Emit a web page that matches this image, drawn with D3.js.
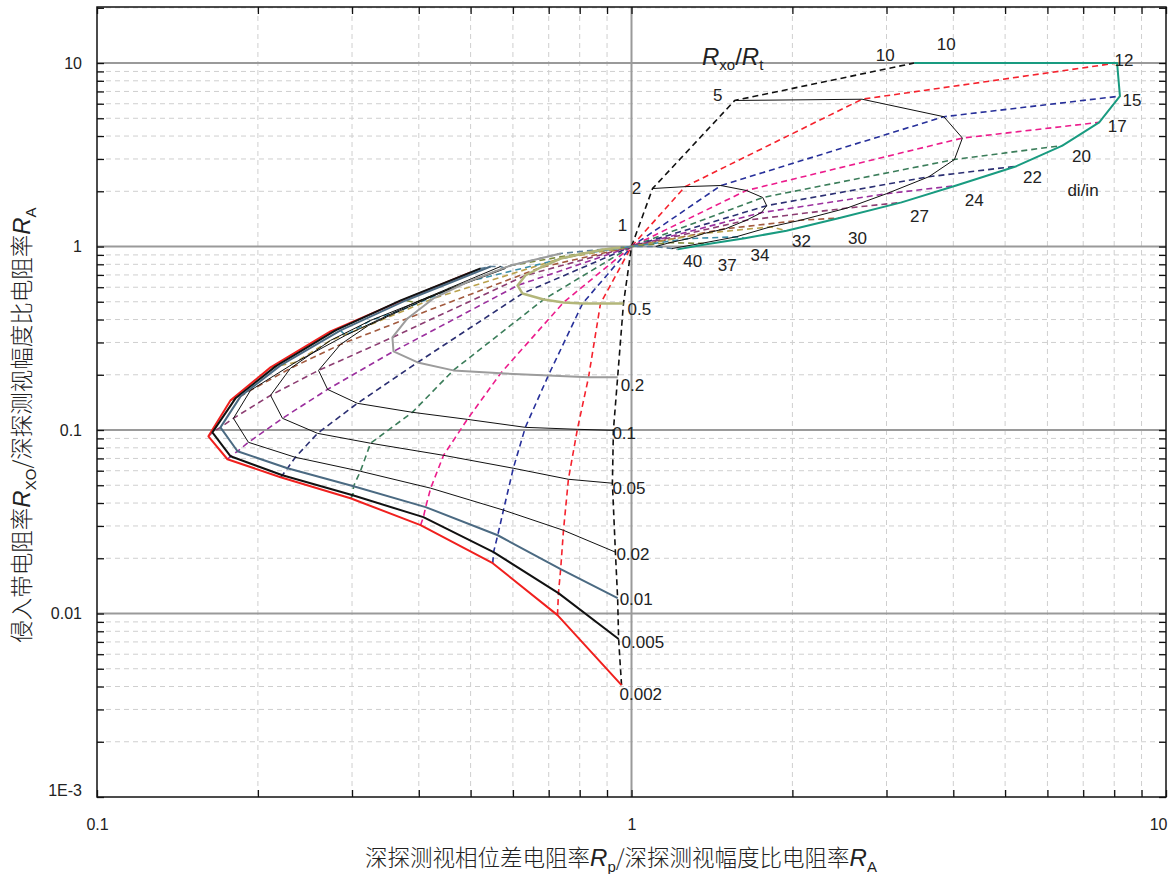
<!DOCTYPE html>
<html>
<head>
<meta charset="utf-8">
<script src="https://cdn.jsdelivr.net/npm/d3@7"></script>
<style>
  body { margin: 0; background: #fff; }
  text { font-family: "Liberation Sans", Arial, sans-serif; fill: #222; }
  .cjk { font-family: "Noto Sans CJK SC", "Liberation Sans", sans-serif; font-weight: 300; }
</style>
</head>
<body>
<svg id="chart" width="1171" height="874"></svg>
<script>
// Rxo/Rt values, one contour per value (rows of the tables below)
const ratios = [0.002, 0.005, 0.01, 0.02, 0.05, 0.1, 0.2, 0.5, 1, 2, 5, 10];
// invasion diameters di (in), one dashed line per value (columns)
const diameters = [10, 12, 15, 17, 20, 22, 24, 27, 30, 32, 34, 37, 40];

// Rp/RA for each ratio row, one value per diameter
const rpRA = [
  [0.958, 0.727, 0.550, 0.403, 0.298, 0.2205, 0.1754, 0.1616, 0.1778, 0.2112, 0.2734, 0.365, 0.500],
  [0.946, 0.730, 0.552, 0.408, 0.301, 0.2223, 0.1778, 0.1644, 0.1816, 0.2158, 0.2794, 0.370, 0.522],
  [0.942, 0.737, 0.562, 0.412, 0.302, 0.2272, 0.1832, 0.1702, 0.1856, 0.2205, 0.2855, 0.378, 0.545],
  [0.933, 0.746, 0.576, 0.421, 0.311, 0.235, 0.192, 0.180, 0.1937, 0.235, 0.2917, 0.394, 0.569],
  [0.921, 0.762, 0.601, 0.445, 0.325, 0.2586, 0.2223, 0.2112, 0.230, 0.2734, 0.325, 0.421, 0.581],
  [0.925, 0.792, 0.633, 0.493, 0.389, 0.307, 0.270, 0.2597, 0.2855, 0.322, 0.370, 0.449, 0.594],
  [0.942, 0.831, 0.699, 0.569, 0.464, 0.398, 0.3587, 0.357, 0.381, 0.426, 0.4955, 0.594, 0.737],
  [0.966, 0.875, 0.810, 0.746, 0.685, 0.625, 0.612, 0.633, 0.676, 0.737, 0.813, 0.886, 0.954],
  [1, 1, 1, 1, 1, 1, 1, 1, 1, 1, 1, 1, 1],
  [1.095, 1.26, 1.47, 1.64, 1.76, 1.79, 1.75, 1.64, 1.50, 1.37, 1.28, 1.18, 1.11],
  [1.56, 2.70, 3.84, 4.16, 4.02, 3.60, 3.00, 2.53, 2.07, 1.82, 1.57, 1.35, 1.19],
  [3.38, 8.1, 8.2, 7.5, 6.4, 5.25, 4.05, 3.2, 2.45, 1.95, 1.63, 1.38, 1.22]
];

// Rxo/RA for each ratio row, one value per diameter
const rxoRA = [
  [0.00407, 0.0098, 0.0188, 0.0303, 0.0425, 0.0553, 0.0693, 0.0924, 0.1451, 0.2195, 0.3446, 0.4957, 0.7221],
  [0.00726, 0.01291, 0.0216, 0.0335, 0.0441, 0.0567, 0.0719, 0.0971, 0.1488, 0.2222, 0.3489, 0.5082, 0.7592],
  [0.01213, 0.01745, 0.0267, 0.0380, 0.0494, 0.0619, 0.0766, 0.1034, 0.1526, 0.225, 0.3489, 0.5082, 0.7785],
  [0.0216, 0.0284, 0.0366, 0.0482, 0.0596, 0.0710, 0.0857, 0.1158, 0.1644, 0.2336, 0.3278, 0.4957, 0.7785],
  [0.0513, 0.0539, 0.0619, 0.0728, 0.0847, 0.0959, 0.1158, 0.1545, 0.2167, 0.3078, 0.3956, 0.5343, 0.7592],
  [0.0996, 0.1009, 0.1034, 0.1143, 0.1249, 0.1398, 0.1665, 0.2113, 0.2928, 0.3715, 0.4483, 0.5761, 0.788],
  [0.1936, 0.1936, 0.1985, 0.2036, 0.2113, 0.2336, 0.2682, 0.3197, 0.4056, 0.5211, 0.6449, 0.788, 0.9161],
  [0.4895, 0.4895, 0.4895, 0.4957, 0.5146, 0.5548, 0.6134, 0.6953, 0.7687, 0.8603, 0.9161, 0.9631, 0.9876],
  [1, 1, 1, 1, 1, 1, 1, 1, 1, 1, 1, 1, 1],
  [2.07, 2.12, 2.15, 2.02, 1.85, 1.67, 1.53, 1.39, 1.25, 1.18, 1.105, 1.05, 1.0],
  [6.25, 6.35, 5.1, 3.9, 2.98, 2.40, 1.94, 1.62, 1.39, 1.28, 1.13, 1.04, 0.975],
  [10, 10, 6.6, 4.75, 3.55, 2.74, 2.15, 1.74, 1.43, 1.22, 1.11, 1.03, 0.965]
];

// axis tick labels
const xTickLabels = ["0.1", "1", "10"];
const yTickLabels = ["1E-3", "0.01", "0.1", "1", "10"];

// line styles
const diColors = ["#111111", "#f5222d", "#27309a", "#ec1c8c", "#3b7d5a", "#2b2f72",
                  "#9b2f9e", "#8c3d72", "#a25a3e", "#b9a14c", "#3c8ea8", "#7d8a3a", "#5a7d96"];
const contourStyle = {
  0.002: { color: "#f0201e", width: 2 },
  0.005: { color: "#111111", width: 2 },
  0.01:  { color: "#4b6a82", width: 2 },
  0.02:  { color: "#111111", width: 1 },
  0.05:  { color: "#111111", width: 1 },
  0.1:   { color: "#111111", width: 1 },
  0.2:   { color: "#9c9c9c", width: 2 },
  0.5:   { color: "#b3b67a", width: 2.5 },
  2:     { color: "#111111", width: 1 },
  5:     { color: "#111111", width: 1 },
  10:    { color: "#199b80", width: 2 }
};

const svg = d3.select("#chart");
const plotL = 97, plotR = 1166, plotT = 7, plotB = 797;

const x = d3.scaleLog().domain([0.1, 10]).range([plotL, plotR]);
const y = d3.scaleLog().domain([0.001, 20.2]).range([plotB, plotT]);

const grid = ratios.map((r, i) => diameters.map((d, j) => ({ r, d, x: rpRA[i][j], y: rxoRA[i][j] })));

// ---- grid lines ----
const xMinor = [], yMinor = [];
[0.1, 1].forEach(b => { for (let k = 2; k <= 9; k++) xMinor.push(b * k); });
[0.001, 0.01, 0.1, 1, 10].forEach(b => { for (let k = 2; k <= 9; k++) { const v = b * k; if (v < 20.2) yMinor.push(v); } });
const gGrid = svg.append("g");
gGrid.selectAll(".vx").data(xMinor).join("line")
  .attr("x1", d => x(d)).attr("x2", d => x(d)).attr("y1", plotT).attr("y2", plotB)
  .attr("stroke", "#cfcfcf").attr("stroke-width", 1).attr("stroke-dasharray", "5,4");
gGrid.selectAll(".hy").data(yMinor).join("line")
  .attr("x1", plotL).attr("x2", plotR).attr("y1", d => y(d)).attr("y2", d => y(d))
  .attr("stroke", "#cfcfcf").attr("stroke-width", 1).attr("stroke-dasharray", "5,4");
gGrid.selectAll(".vX").data([1]).join("line")
  .attr("x1", d => x(d)).attr("x2", d => x(d)).attr("y1", plotT).attr("y2", plotB)
  .attr("stroke", "#9a9a9a").attr("stroke-width", 2);
gGrid.selectAll(".hY").data([0.01, 0.1, 1, 10]).join("line")
  .attr("x1", plotL).attr("x2", plotR).attr("y1", d => y(d)).attr("y2", d => y(d))
  .attr("stroke", "#9a9a9a").attr("stroke-width", 2);

// ---- dashed constant-diameter lines ----
const line = d3.line().x(p => x(p.x)).y(p => y(p.y));
const gDi = svg.append("g");
diameters.forEach((d, j) => {
  gDi.append("path")
    .attr("d", line(grid.map(row => row[j])))
    .attr("fill", "none").attr("stroke", diColors[j])
    .attr("stroke-width", 1.6).attr("stroke-dasharray", "6,4");
});

// ---- solid constant Rxo/Rt contours ----
const gC = svg.append("g");
ratios.forEach((r, i) => {
  if (r === 1) return;
  const st = contourStyle[r];
  gC.append("path")
    .attr("d", line(grid[i]))
    .attr("fill", "none").attr("stroke", st.color)
    .attr("stroke-width", st.width).attr("stroke-linejoin", "round");
});

// ---- frame and axes ----
svg.append("rect").attr("x", plotL).attr("y", plotT).attr("width", plotR - plotL).attr("height", plotB - plotT)
  .attr("fill", "none").attr("stroke", "#111").attr("stroke-width", 1.5);

const xAll = [0.1, ...xMinor.slice(0, 8), 1, ...xMinor.slice(8), 10];
const yDecades = [0.001, 0.01, 0.1, 1, 10];

const xAxis = d3.axisBottom(x).tickValues(xAll)
  .tickSize(-7).tickPadding(22)
  .tickFormat(d => { const k = [0.1, 1, 10].indexOf(d); return k >= 0 ? xTickLabels[k] : ""; });
const gx = svg.append("g").attr("transform", `translate(0,${plotB})`).call(xAxis);
gx.select(".domain").remove();
gx.selectAll(".tick line").attr("stroke", "#111").attr("stroke-width", 1.3);
gx.selectAll(".tick text").attr("font-size", 16).attr("fill", "#222");
// keep the last label inside the page
gx.selectAll(".tick").filter(d => d === 10).select("text").attr("text-anchor", "end").attr("dx", 1);

const yAll = [...yDecades, ...yMinor].sort((a, b) => a - b);
const yAxis = d3.axisLeft(y).tickValues(yAll)
  .tickSize(-7).tickPadding(15)
  .tickFormat(d => { const k = yDecades.indexOf(d); return k >= 0 ? yTickLabels[k] : ""; });
const gy = svg.append("g").attr("transform", `translate(${plotL},0)`).call(yAxis);
gy.select(".domain").remove();
gy.selectAll(".tick line").attr("stroke", "#111").attr("stroke-width", 1.3);
gy.selectAll(".tick text").attr("font-size", 16).attr("fill", "#222");
gy.selectAll(".tick").filter(d => d === 0.001).select("text").attr("y", -7);

const gyR = svg.append("g").attr("transform", `translate(${plotR},0)`)
  .call(d3.axisRight(y).tickValues(yAll).tickSize(-7).tickFormat(""));
gyR.select(".domain").remove();
gyR.selectAll(".tick line").attr("stroke", "#111").attr("stroke-width", 1.3);

const gxT = svg.append("g").attr("transform", `translate(0,${plotT})`)
  .call(d3.axisTop(x).tickValues(xAll).tickSize(-7).tickFormat(""));
gxT.select(".domain").remove();
gxT.selectAll(".tick line").attr("stroke", "#111").attr("stroke-width", 1.3);

// ---- curve labels ----
const gL = svg.append("g").attr("font-size", 17);
// Rxo/Rt labels at the end of each contour on the smallest-diameter line
const lowOffsets = { 0.5: [4, 7], 0.2: [3, 9], 0.1: [-1, 4], 0.05: [0, 6], 0.02: [1, 3], 0.01: [2, 2], 0.005: [3, 4], 0.002: [-2, 10] };
ratios.forEach((r, i) => {
  const p = grid[i][0];
  if (lowOffsets[r]) {
    const [dx, dy] = lowOffsets[r];
    gL.append("text").attr("x", x(p.x) + dx).attr("y", y(p.y) + dy)
      .attr("dominant-baseline", "middle").text(String(r));
  }
});
const upOffsets = { 1: [-9, -20], 2: [-16, 1], 5: [-17, -4], 10: [-29, -7] };
ratios.forEach((r, i) => {
  const p = grid[i][0];
  if (upOffsets[r]) {
    const [dx, dy] = upOffsets[r];
    gL.append("text").attr("x", x(p.x) + dx).attr("y", y(p.y) + dy)
      .attr("text-anchor", "middle").attr("dominant-baseline", "middle").text(String(r));
  }
});
// diameter labels along the Rxo/Rt = 10 contour
const diOffsets = [[32, -18], [7, -2], [12, 5], [18, 5], [19, 12], [16, 12], [18, 16], [18, 15], [18, 21], [15, 12], [15, 18], [21, 22], [15, 13]];
const topRow = grid[ratios.indexOf(10)];
diameters.forEach((d, j) => {
  const p = topRow[j];
  gL.append("text").attr("x", x(p.x) + diOffsets[j][0]).attr("y", y(p.y) + diOffsets[j][1])
    .attr("text-anchor", "middle").attr("dominant-baseline", "middle").text(String(d));
});
gL.append("text").attr("x", 1083).attr("y", 192).attr("text-anchor", "middle")
  .attr("dominant-baseline", "middle").text("di/in");

// Rxo/Rt caption
const cap = svg.append("text").attr("x", 702).attr("y", 65).attr("font-size", 24);
cap.append("tspan").attr("font-style", "italic").text("R");
cap.append("tspan").attr("font-size", 15).attr("dy", 5).text("xo");
cap.append("tspan").attr("dy", -5).text("/");
cap.append("tspan").attr("font-style", "italic").text("R");
cap.append("tspan").attr("font-size", 15).attr("dy", 5).text("t");

// ---- axis titles ----
function titleParts(sel, parts) {
  parts.forEach(([txt, kind]) => {
    const t = sel.append("tspan").text(txt);
    if (kind === "cjk") t.attr("class", "cjk");
    if (kind === "it") t.attr("font-style", "italic").attr("font-size", 24);
    if (kind === "sub") t.attr("font-size", 15).attr("dy", 6);
    if (kind === "up") t.attr("dy", -6).attr("class", "cjk");
  });
}
const xt = svg.append("text").attr("x", 621).attr("y", 866).attr("text-anchor", "middle")
  .attr("font-size", 22.5).attr("fill", "#333");
titleParts(xt, [["深探测视相位差电阻率", "cjk"], ["R", "it"], ["p", "sub"], ["/深探测视幅度比电阻率", "up"], ["R", "it"], ["A", "sub"]]);

const yt = svg.append("text").attr("transform", "translate(30,425) rotate(-90)").attr("text-anchor", "middle")
  .attr("font-size", 22.5).attr("fill", "#333");
titleParts(yt, [["侵入带电阻率", "cjk"], ["R", "it"], ["XO", "sub"], ["/深探测视幅度比电阻率", "up"], ["R", "it"], ["A", "sub"]]);
</script>
</body>
</html>
